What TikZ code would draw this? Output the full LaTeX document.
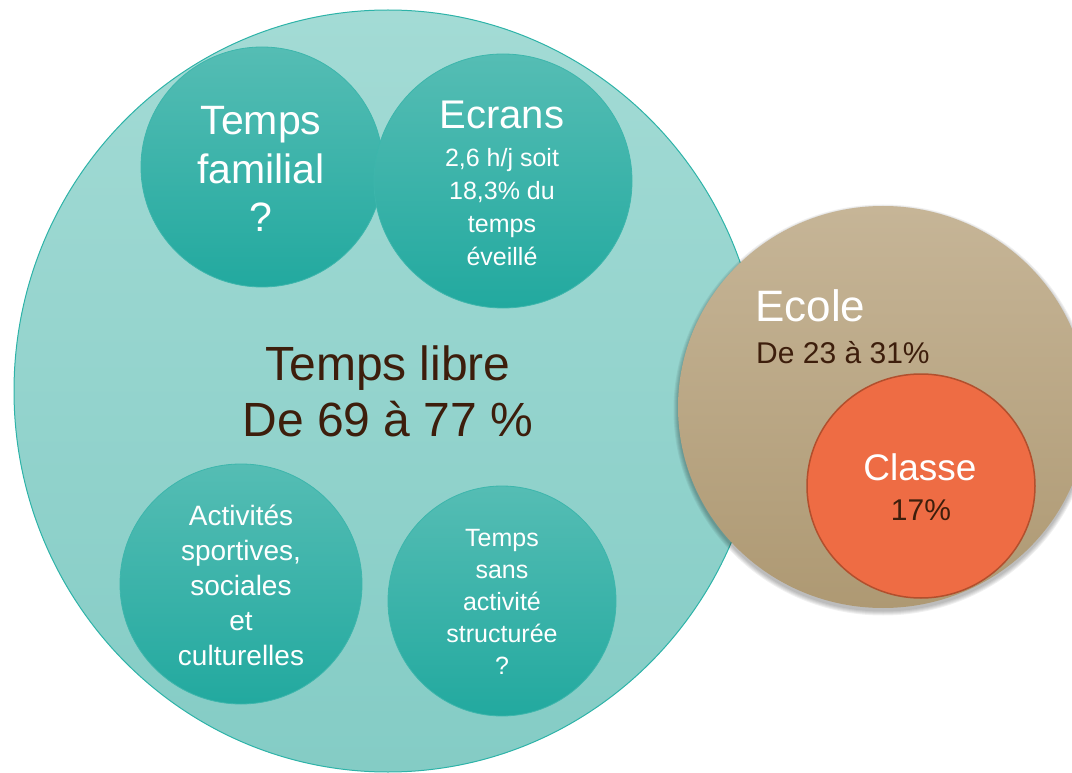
\documentclass[tikz,border=0pt]{standalone}
\usepackage{fontspec}
\setmainfont{Liberation Sans}
\usetikzlibrary{shapes.geometric}
\definecolor{bigtop}{HTML}{A3DBD5}
\definecolor{bigbot}{HTML}{84CCC5}
\definecolor{bigedge}{HTML}{2DB3A8}
\definecolor{intop}{HTML}{55BDB4}
\definecolor{inbot}{HTML}{22A99F}
\definecolor{inedge}{HTML}{3DB6AC}
\definecolor{ectop}{HTML}{C6B597}
\definecolor{ecbot}{HTML}{AE9973}
\definecolor{clfill}{HTML}{EE6C44}
\definecolor{cledge}{HTML}{B24F2D}
\definecolor{brown}{HTML}{3D1E0C}
\tikzset{
  bigell/.style={ellipse, inner sep=0pt, outer sep=0pt, draw=bigedge, line width=1pt, top color=bigtop, bottom color=bigbot},
  inell/.style={ellipse, inner sep=0pt, outer sep=0pt, draw=inedge, line width=0.8pt, top color=intop, bottom color=inbot},
  ecell/.style={ellipse, inner sep=0pt, outer sep=0pt, top color=ectop, bottom color=ecbot},
  clell/.style={ellipse, inner sep=0pt, outer sep=0pt, fill=clfill, draw=cledge, line width=1.5pt},
  wtxt/.style={inner sep=0pt, text=white, align=center},
  btxt/.style={inner sep=0pt, text=brown, align=center},
}
\begin{document}
\begin{tikzpicture}[x=1pt,y=-1pt]
\useasboundingbox (0,0) rectangle (1072,773);
% big ellipse
\node[bigell, minimum width=748pt, minimum height=762pt] (libre) at (388,391) {};
% inner ellipses
\node[inell, minimum width=242pt, minimum height=240pt] (famille) at (262,167) {};
\node[inell, minimum width=258pt, minimum height=254pt] (ecrans) at (503,181) {};
\node[inell, minimum width=242pt, minimum height=240pt] (activ) at (241,584) {};
\node[inell, minimum width=228pt, minimum height=230pt] (sans) at (502,601) {};
% soft shadow of Ecole
\foreach \d in {0.5,1.5,2.5,3.5,4.5}{
  \fill[black, opacity=0.06] (883,410) ellipse [x radius=205pt+\d pt, y radius=201pt+\d pt];
}
\node[ecell, minimum width=410pt, minimum height=402pt] (ecole) at (883,407) {};
\node[clell, minimum width=228pt, minimum height=224pt] (classe) at (921,486) {};
% texts
\node[btxt, font=\fontsize{48}{56}\selectfont] (tlibre) at (388,391) {Temps libre\\De 69 à 77 \%};
\node[wtxt, font=\fontsize{41}{48.5}\selectfont] (tfam) at (261,169) {Temps\\familial\\?};
\node[wtxt, font=\fontsize{40}{48}\selectfont, anchor=base] (tecr) at (502,129) {Ecrans};
\node[wtxt, font=\fontsize{25}{33}\selectfont] (tecrsub) at (502,207.5) {2,6 h/j soit\\18,3\% du\\temps\\éveillé};
\node[wtxt, font=\fontsize{28}{35}\selectfont] (tact) at (241,585) {Activités\\sportives,\\sociales\\et\\culturelles};
\node[wtxt, font=\fontsize{25}{32}\selectfont] (tsans) at (502,602) {Temps\\sans\\activité\\structurée\\?};
\node[wtxt, font=\fontsize{44}{50}\selectfont, anchor=base west] (tecole) at (755,321) {Ecole};
\node[btxt, font=\fontsize{30}{36}\selectfont, anchor=base west] (tecolep) at (756,363) {De 23 à 31\%};
\node[wtxt, font=\fontsize{37}{44}\selectfont, anchor=base] (tclasse) at (920,480) {Classe};
\node[btxt, font=\fontsize{30}{36}\selectfont, anchor=base] (tclassep) at (921,520) {17\%};
\end{tikzpicture}
\end{document}
